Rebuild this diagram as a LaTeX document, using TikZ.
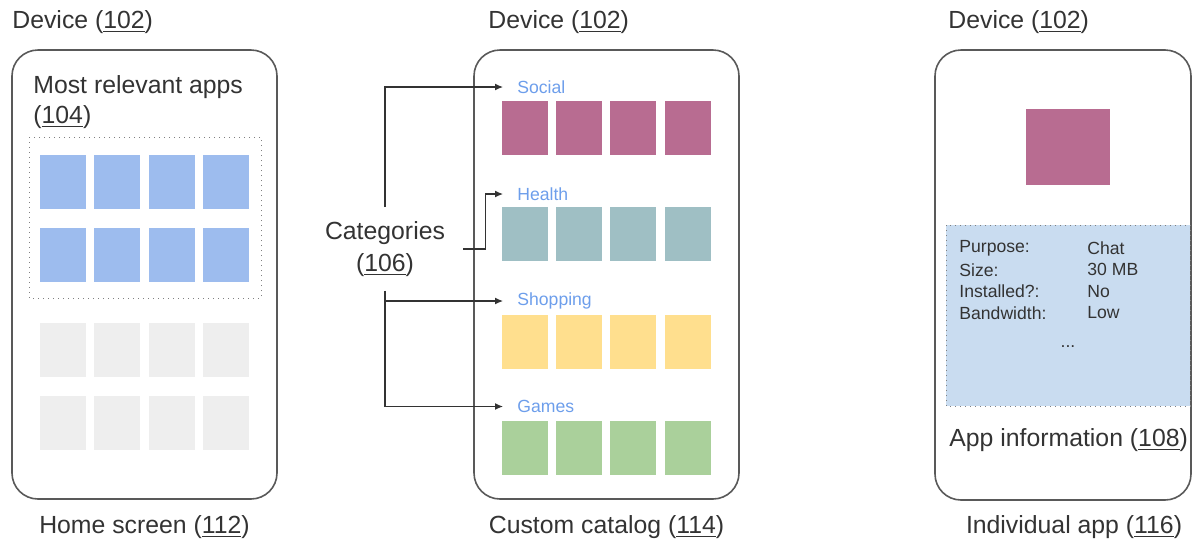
\documentclass[tikz,border=0pt]{standalone}
\usepackage{fontspec}
\setmainfont{Liberation Sans}
\usepackage{xcolor}
\usetikzlibrary{arrows.meta}

\definecolor{txtgray}{HTML}{333333}
\definecolor{linegray}{HTML}{595959}
\definecolor{appblue}{HTML}{9DBCEE}
\definecolor{appgray}{HTML}{EEEEEE}
\definecolor{social}{HTML}{B86C91}
\definecolor{health}{HTML}{9FBFC4}
\definecolor{shopping}{HTML}{FFDF8E}
\definecolor{games}{HTML}{AAD09B}
\definecolor{infofill}{HTML}{C9DCF0}
\definecolor{catblue}{HTML}{6D9EEB}

\newcommand{\bigtxt}{\fontsize{12.4}{15}\selectfont}
\newcommand{\smalltxt}{\fontsize{8.8}{10}\selectfont}

\tikzset{
	device/.style={draw=linegray,line width=0.8pt,rounded corners=13pt},
	dotbox/.style={draw=gray,dotted,line width=0.5pt},
	tile/.style={minimum width=23pt,minimum height=27pt,inner sep=0pt},
	caption/.style={text=txtgray,font=\bigtxt,inner sep=0pt},
	catlabel/.style={text=catblue,font=\smalltxt,inner sep=0pt,anchor=west},
	info/.style={text=txtgray,font=\smalltxt,inner sep=0pt,anchor=west},
	catarrow/.style={draw=txtgray,line width=0.6pt,-{Latex[length=4pt,width=3.5pt]}}
}

\begin{document}
\begin{tikzpicture}[x=0.5pt,y=-0.5pt]
	\useasboundingbox (0,0) rectangle (1194,542);

	% home screen
	\node[caption,anchor=west] (dev1) at (12,22) {Device (\underline{102})};
	\draw[device] (12,50) rectangle (277,499);
	\node[caption,anchor=west,align=left] (rel) at (33,102) {Most relevant apps\\(\underline{104})};
	\draw[dotbox] (29,137) rectangle (261,298);
	\foreach \i in {0,...,3} {
		\node[tile,fill=appblue] (blueA\i) at (62.5+54.5*\i,181.5) {};
		\node[tile,fill=appblue] (blueB\i) at (62.5+54.5*\i,254.5) {};
		\node[tile,fill=appgray] (grayA\i) at (62.5+54.5*\i,349.5) {};
		\node[tile,fill=appgray] (grayB\i) at (62.5+54.5*\i,422.5) {};
	}
	\node[caption] (home) at (144.5,527) {Home screen (\underline{112})};

	% custom catalog
	\node[caption,anchor=west] (dev2) at (488,22) {Device (\underline{102})};
	\draw[device] (474,50) rectangle (739,499);
	\node[catlabel] (socl) at (517,87) {Social};
	\node[catlabel] (hlth) at (517,194) {Health};
	\node[catlabel] (shop) at (517,301) {Shopping};
	\node[catlabel] (game) at (517,406.5) {Games};
	\foreach \i in {0,...,3} {
		\node[tile,fill=social] (socl\i) at (524.5+54.4*\i,128.3) {};
		\node[tile,fill=health] (hlth\i) at (524.5+54.4*\i,233.5) {};
		\node[tile,fill=shopping] (shop\i) at (524.5+54.4*\i,342.3) {};
		\node[tile,fill=games] (game\i) at (524.5+54.4*\i,447.5) {};
	}
	\node[caption] (catalog) at (606.5,527) {Custom catalog (\underline{114})};

	% categories and their arrows
	\node[caption,align=center,inner xsep=9pt,inner ysep=7pt,font=\fontsize{12.4}{16}\selectfont] (cat) at (385,249) {Categories\\(\underline{106})};
	\draw[catarrow] (cat.north) |- ([xshift=-7pt]socl.west);
	\draw[catarrow] (cat.east) -- ++(22,0) |- ([xshift=-7pt]hlth.west);
	\draw[catarrow] (cat.south) |- ([xshift=-7pt]shop.west);
	\draw[catarrow] (cat.south) |- ([xshift=-7pt]game.west);

	% individual app
	\node[caption,anchor=west] (dev3) at (948,22) {Device (\underline{102})};
	\draw[device] (935,50) rectangle (1191,500);
	\node[minimum width=42pt,minimum height=38pt,inner sep=0pt,fill=social] (icon) at (1068,147) {};
	\draw[dotbox,fill=infofill] (946,225) rectangle (1190,406);
	\foreach \k/\v [count=\r from 0] in {Purpose:/Chat,Size:/30 MB,Installed?:/No,Bandwidth:/Low} {
		\node[info] (key\r) at (959,248.3+21.5*\r) {\k};
		\node[info] (val\r) at (1087,248.3+21.5*\r) {\v};
	}
	\node[info,anchor=center] (more) at (1068,347) {...};
	\node[caption,anchor=west] (appinfo) at (949,440) {App information (\underline{108})};
	\node[caption] (single) at (1074,527) {Individual app (\underline{116})};
\end{tikzpicture}
\end{document}
